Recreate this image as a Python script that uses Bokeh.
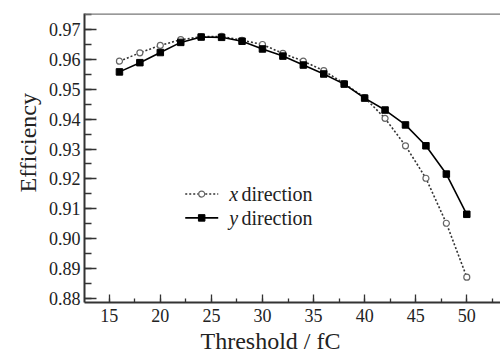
import math
from bokeh.plotting import figure
from bokeh.models import Range1d, SingleIntervalTicker, PrintfTickFormatter, Span, Label, Title
from bokeh.embed import file_html
from bokeh.resources import INLINE

# ---- data ----
threshold = [16, 18, 20, 22, 24, 26, 28, 30, 32, 34, 36, 38, 40, 42, 44, 46, 48, 50]
eff_x_dir = [0.9595, 0.9623, 0.9648, 0.9667, 0.9677, 0.9678, 0.9665, 0.9651, 0.9621,
             0.9595, 0.9563, 0.9520, 0.9473, 0.9403, 0.9311, 0.9202, 0.9051, 0.8870]
eff_y_dir = [0.9559, 0.9590, 0.9624, 0.9658, 0.9676, 0.9675, 0.9662, 0.9636, 0.9612,
             0.9582, 0.9552, 0.9518, 0.9471, 0.9431, 0.9381, 0.9311, 0.9216, 0.9081]
series_names = ["x", "y"]
legend_suffix = "direction"
x_title = "Threshold / fC"
y_title = "Efficiency"

FONT = "Liberation Serif"
X0, X1 = 12.58, 53.3
Y0, Y1 = 0.8785, 0.9755

p = figure(width=500, height=357, output_backend="svg", toolbar_location=None,
           x_range=Range1d(X0, X1), y_range=Range1d(Y0, Y1),
           min_border_left=84, min_border_right=0, min_border_top=13, min_border_bottom=55)
p.grid.visible = False
p.outline_line_color = None
p.background_fill_color = "white"
p.border_fill_color = "white"

p.xaxis.ticker = SingleIntervalTicker(interval=5, num_minor_ticks=2)
p.yaxis.ticker = SingleIntervalTicker(interval=0.01, num_minor_ticks=2)
p.yaxis.formatter = PrintfTickFormatter(format="%.2f")
for ax in (p.xaxis, p.yaxis):
    ax.axis_line_width = 2
    ax.axis_line_color = "#333333"
    ax.major_tick_line_color = "#333333"
    ax.minor_tick_line_color = "#333333"
    ax.major_tick_line_width = 1.3
    ax.minor_tick_line_width = 1.3
    ax.major_tick_out = 0
    ax.minor_tick_out = 0
    ax.major_label_text_font = FONT
    ax.major_label_text_font_size = "18px"
    ax.major_label_text_color = "#222222"
p.xaxis.major_tick_in = 8
p.xaxis.minor_tick_in = 4
p.yaxis.major_tick_in = 12
p.yaxis.minor_tick_in = 7
p.xaxis.major_label_standoff = 6
p.yaxis.major_label_standoff = 4

# top border
p.add_layout(Span(location=Y1, dimension="width", line_color="#777777", line_width=2.5))

# series
p.line(threshold, eff_x_dir, line_dash="2 2", line_width=1.6, line_color="#333333")
p.scatter(threshold, eff_x_dir, marker="circle", size=6, fill_color="white",
          line_color="#666666", line_width=1.2)
p.line(threshold, eff_y_dir, line_width=1.6, line_color="black")
p.scatter(threshold, eff_y_dir, marker="square", size=6.5, color="black")

# legend (manual, to allow italic x / y)
leg_x0, leg_x1, leg_xm = 22.44, 25.67, 24.05
leg_rows = [0.9149, 0.9069]
p.line([leg_x0, leg_x1], [leg_rows[0]] * 2, line_dash="2 2", line_width=1.6, line_color="#333333")
p.scatter([leg_xm], [leg_rows[0]], marker="circle", size=6, fill_color="white",
          line_color="#666666", line_width=1.2)
p.line([leg_x0, leg_x1], [leg_rows[1]] * 2, line_width=1.6, line_color="black")
p.scatter([leg_xm], [leg_rows[1]], marker="square", size=6.5, color="black")
for name, yy in zip(series_names, leg_rows):
    p.add_layout(Label(x=26.75, y=yy, text=name, text_font=FONT, text_font_style="italic",
                       text_font_size="20px", text_baseline="middle", text_color="#222222"))
    p.add_layout(Label(x=27.95, y=yy, text=legend_suffix, text_font=FONT,
                       text_font_size="20px", text_baseline="middle", text_color="#222222"))

# axis titles
p.add_layout(Title(text=x_title, align="left", offset=116, text_font=FONT,
                   text_font_size="24px", text_font_style="normal", text_color="#222222",
                   standoff=3), "below")
p.add_layout(Title(text=y_title, align="left", offset=110, text_font=FONT,
                   text_font_size="24px", text_font_style="normal", text_color="#222222",
                   standoff=10), "left")

open("out.html", "w").write(file_html(p, INLINE))
